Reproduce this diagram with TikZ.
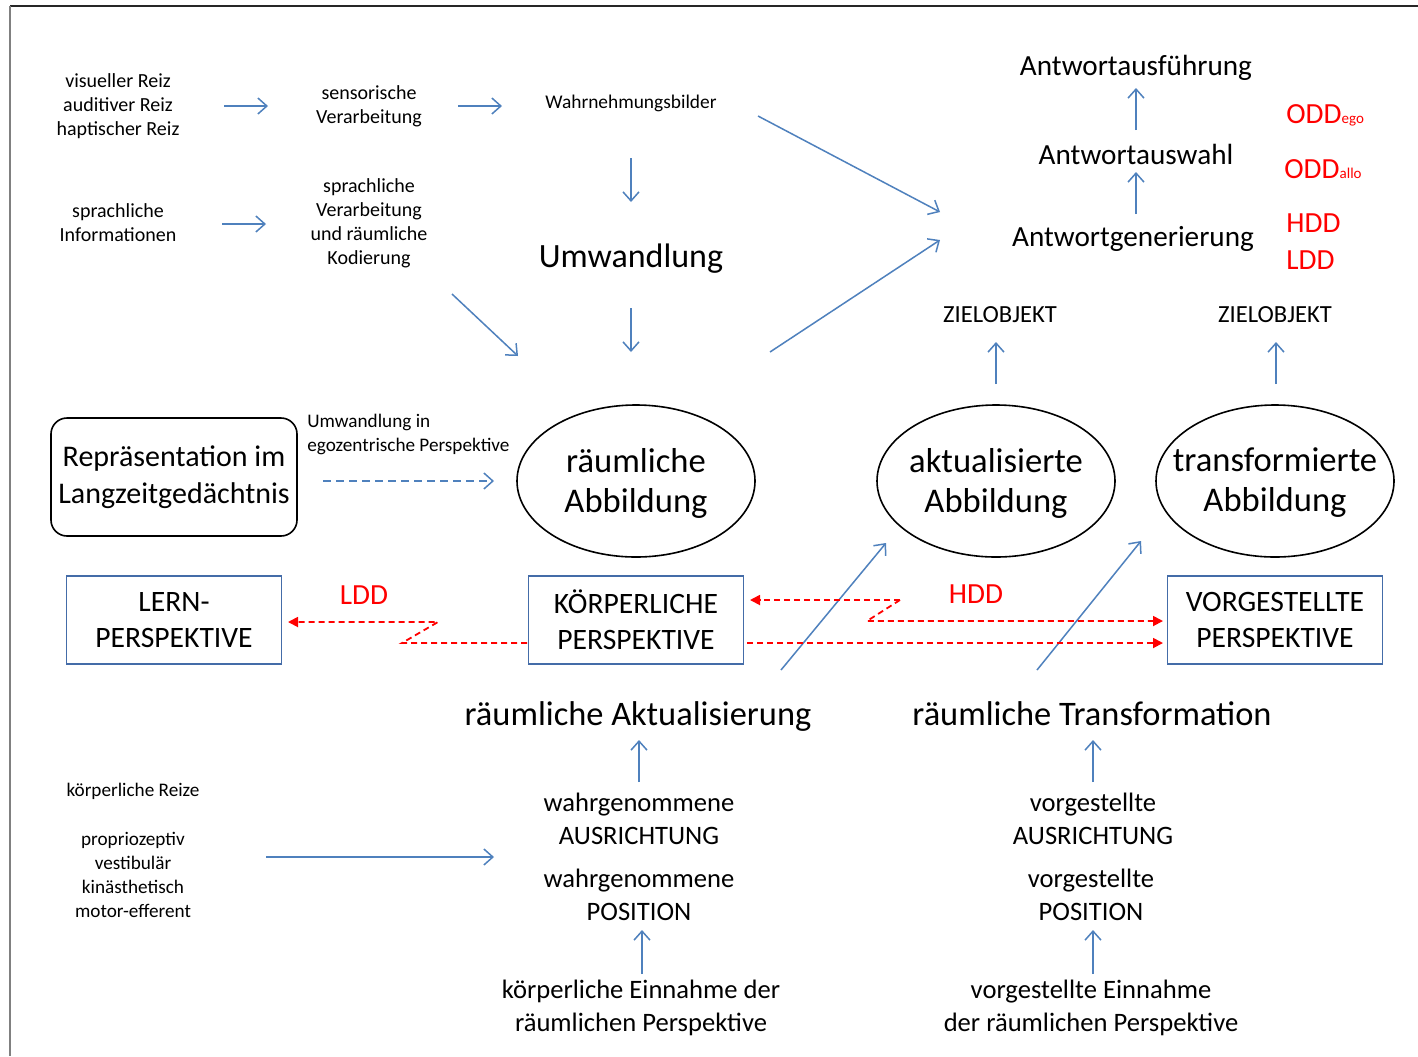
\documentclass[tikz,border=0pt]{standalone}
\usepackage{fontspec}
\setmainfont{Carlito}
\usetikzlibrary{arrows.meta,shapes.geometric}
\definecolor{myblue}{RGB}{79,129,189}
\definecolor{boxblue}{RGB}{68,108,168}
\newcommand\fsz[2]{\fontsize{#1}{#2}\selectfont}
\begin{document}
\begin{tikzpicture}[x=0.5pt,y=-0.5pt,
  txt/.style={inner sep=0pt, align=center, yshift=-1pt},
  smalltxt/.style={txt, font=\fsz{10}{12}},
  midtxt/.style={txt, font=\fsz{13.3}{16.3}},
  bigtxt/.style={txt, font=\fsz{14.6}{18}},
  redtxt/.style={inner sep=0pt, anchor=west, text=red, font=\fsz{14.6}{18}, yshift=-1pt},
  barrow/.style={draw=myblue, line width=0.75pt, -{Straight Barb[length=4.5pt,width=8pt]}},
  bdash/.style={barrow, dash pattern=on 4pt off 2.5pt},
  rarrow/.style={draw=red, line width=0.9pt, dash pattern=on 3pt off 2pt, -{Triangle[length=5pt,width=5pt]}},
  pbox/.style={draw=boxblue, line width=0.9pt, minimum width=107.5pt, minimum height=44pt, inner sep=0pt, align=center, font=\fsz{14.8}{18}},
  ell/.style={ellipse, draw=black, line width=0.8pt, minimum width=119pt, minimum height=76pt, inner sep=0pt},
  elltxt/.style={txt, font=\fsz{17.3}{20}}
]
\useasboundingbox (0,0) rectangle (1418,1056);
\fill[white] (0,0) rectangle (1418,1056);
% frame
\draw[black!85, line width=1pt] (10,6) -- (1418,6);
\draw[black!50, line width=1pt] (10,6) -- (10,1056);

% top-left texts
\node[smalltxt] (vis) at (118,104) {visueller Reiz\\auditiver Reiz\\haptischer Reiz};
\node[smalltxt] (sens) at (369,104) {sensorische\\Verarbeitung};
\node[txt, font=\fsz{9.7}{12}] (wahr) at (631,101) {Wahrnehmungsbilder};
\node[smalltxt] (spr) at (118,221) {sprachliche\\Informationen};
\node[smalltxt] (sprv) at (369,221) {sprachliche\\Verarbeitung\\und räumliche\\Kodierung};
\node[txt, font=\fsz{17}{20}] (umw) at (631,257) {Umwandlung};

% response chain
\node[bigtxt] (aus) at (1136,66) {Antwortausführung};
\node[bigtxt] (wahl) at (1136,152) {Antwortauswahl};
\node[bigtxt] (gen) at (1133,237) {Antwortgenerierung};
\node[redtxt] (odde) at (1286,113) {ODD{\fsz{7.5}{9}ego}};
\node[redtxt] (odda) at (1284,167) {ODD{\fsz{7.5}{9}allo}};
\node[redtxt] (hdda) at (1286,221) {HDD};
\node[redtxt] (ldda) at (1286,258) {LDD};

\node[txt, font=\fsz{12.3}{15}] (ziel1) at (1000,313) {ZIELOBJEKT};
\node[txt, font=\fsz{12.3}{15}] (ziel2) at (1275,313) {ZIELOBJEKT};

% memory box and ellipses
\node[draw=black, line width=0.8pt, rounded corners=8pt, minimum width=123pt, minimum height=59pt, inner sep=0pt, align=center, font=\fsz{15}{18.5}] (lzg) at (174,477) {Repräsentation im\\Langzeitgedächtnis};
\node[txt, align=left, anchor=west, font=\fsz{9.6}{12}] (umwin) at (307,432) {Umwandlung in\\egozentrische Perspektive};
\node[ell] (ra) at (636,481) {};
\node[elltxt] (rat) at (ra.center) {räumliche\\Abbildung};
\node[ell] (aa) at (996,481) {};
\node[elltxt] (aat) at (aa.center) {aktualisierte\\Abbildung};
\node[ell] (ta) at (1275,481) {};
\node[elltxt] (tat) at (ta.center) {transformierte\\Abbildung};

% perspective boxes
\node[pbox] (lern) at (174,620) {LERN-\\PERSPEKTIVE};
\node[pbox] (kp) at (636,620) {KÖRPERLICHE\\PERSPEKTIVE};
\node[pbox] (vp) at (1275,620) {VORGESTELLTE\\PERSPEKTIVE};
\node[redtxt, anchor=center] (lddb) at (364,593) {LDD};
\node[redtxt, anchor=center] (hddb) at (976,592) {HDD};

% bottom
\node[txt, font=\fsz{17.2}{20}] (rakt) at (638,714) {räumliche Aktualisierung};
\node[txt, font=\fsz{17.2}{20}] (rtra) at (1092,712) {räumliche Transformation};
\node[midtxt] (wa) at (639,817) {wahrgenommene\\AUSRICHTUNG};
\node[midtxt] (wp) at (639,893) {wahrgenommene\\POSITION};
\node[midtxt] (ke) at (641,1006) {körperliche Einnahme der\\räumlichen Perspektive};
\node[midtxt] (va) at (1093,817) {vorgestellte\\AUSRICHTUNG};
\node[midtxt] (vpos) at (1091,893) {vorgestellte\\POSITION};
\node[midtxt] (ve) at (1091,1006) {vorgestellte Einnahme\\der räumlichen Perspektive};
\node[txt, font=\fsz{9.6}{12}] (kr) at (133,789) {körperliche Reize};
\node[txt, font=\fsz{9.6}{11.9}] (prop) at (133,873) {propriozeptiv\\vestibulär\\kinästhetisch\\motor-efferent};

% blue arrows
\draw[barrow] (224,106) coordinate (c1a) -- (268,106) coordinate (c1b);
\draw[barrow] (458,106) coordinate (c2a) -- (502,106) coordinate (c2b);
\draw[barrow] (222,224) coordinate (c3a) -- (266,224) coordinate (c3b);
\draw[barrow] (631,158) coordinate (c4a) -- (631,202) coordinate (c4b);
\draw[barrow] (631,308) coordinate (c5a) -- (631,352) coordinate (c5b);
\draw[barrow] (452,294) coordinate (c6a) -- (518,356) coordinate (c6b);
\draw[barrow] (758,116) coordinate (c7a) -- (940,212) coordinate (c7b);
\draw[barrow] (770,352) coordinate (c8a) -- (940,240) coordinate (c8b);
\draw[barrow] (1136,130) coordinate (c9a) -- (1136,88) coordinate (c9b);
\draw[barrow] (1136,214) coordinate (c10a) -- (1136,172) coordinate (c10b);
\draw[barrow] (996,384) coordinate (c11a) -- (996,342) coordinate (c11b);
\draw[barrow] (1276,384) coordinate (c12a) -- (1276,342) coordinate (c12b);
\draw[bdash] (323,481) coordinate (c13a) -- (494,481) coordinate (c13b);
\draw[barrow] (781,670) coordinate (c14a) -- (886,543) coordinate (c14b);
\draw[barrow] (1037,670) coordinate (c15a) -- (1141,541) coordinate (c15b);
\draw[barrow] (639,782) coordinate (c16a) -- (639,740) coordinate (c16b);
\draw[barrow] (1093,782) coordinate (c17a) -- (1093,740) coordinate (c17b);
\draw[barrow] (642,974) coordinate (c18a) -- (642,930) coordinate (c18b);
\draw[barrow] (1093,974) coordinate (c19a) -- (1093,930) coordinate (c19b);
\draw[barrow] (266,857) coordinate (c20a) -- (494,857) coordinate (c20b);

% red dashed connectors
\draw[rarrow] (527,643) coordinate (r1a) -- (402,643) -- (438,622) -- (288,622) coordinate (r1b);
\draw[rarrow] (900,600) coordinate (r2a) -- (750,600) coordinate (r2b);
\draw[rarrow] (900,600) -- (867,621) -- (1163,621) coordinate (r3b);
\draw[rarrow] (747,643) coordinate (r4a) -- (1163,643) coordinate (r4b);
\end{tikzpicture}
\end{document}
